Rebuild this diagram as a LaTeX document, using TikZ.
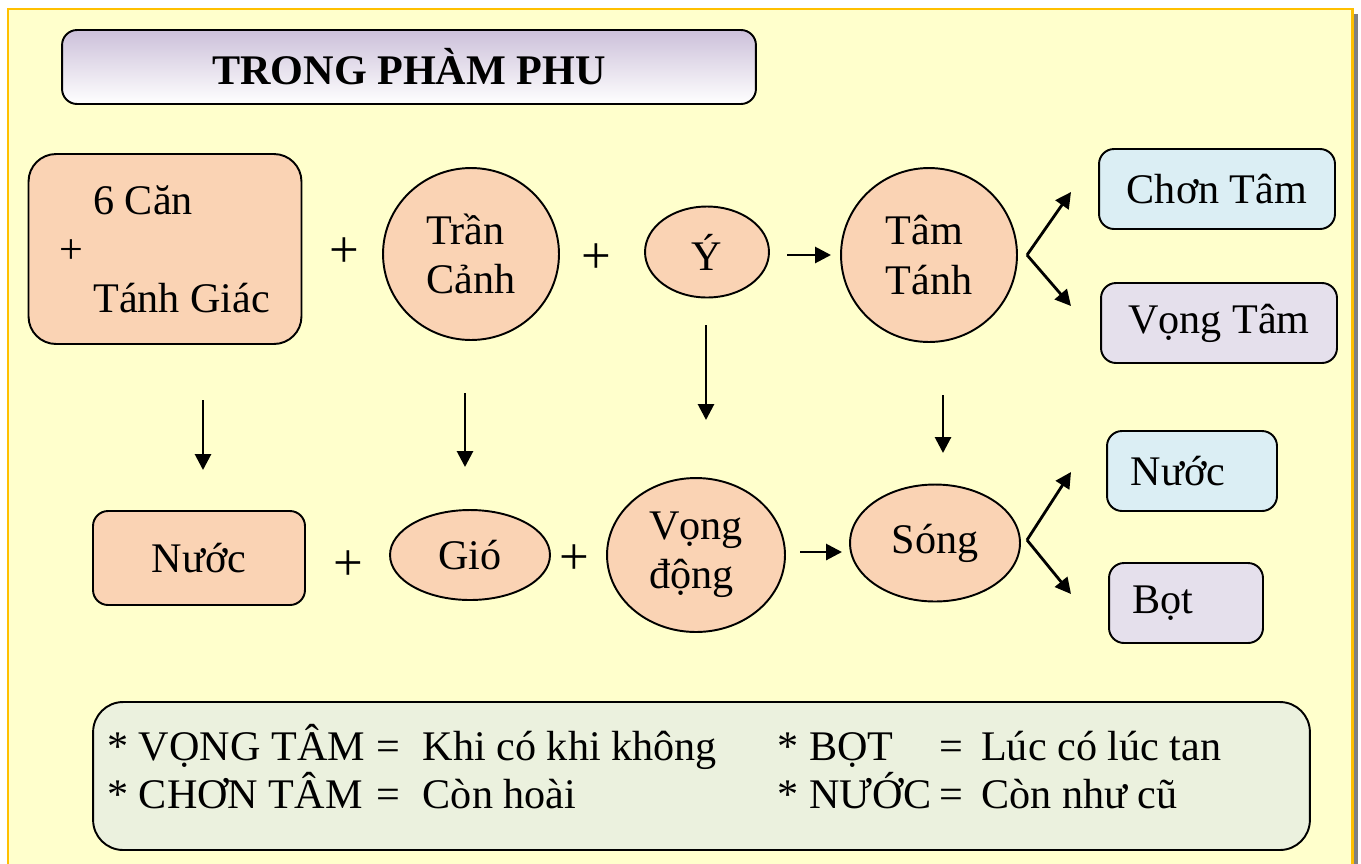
\documentclass[tikz,border=0pt]{standalone}
\usepackage{fontspec}
\setmainfont{Liberation Serif}
\usetikzlibrary{positioning}
\usetikzlibrary{arrows.meta}
\usetikzlibrary{shapes.geometric}
\usetikzlibrary{calc}

\definecolor{panel}{HTML}{FFFFCC}
\definecolor{gold}{HTML}{FFC000}
\definecolor{peach}{HTML}{FAD3B4}
\definecolor{skyfill}{HTML}{DBEEF4}
\definecolor{lilac}{HTML}{E5E0EC}
\definecolor{sage}{HTML}{EBF1DE}
\definecolor{titletop}{HTML}{CCC0DA}

\newcommand{\legcol}[2]{\makebox[#1][l]{#2}}

\begin{document}
\begin{tikzpicture}[ x = 0.02cm, y = -0.02cm
                     , font = \fontsize{24}{28}\selectfont
                     , >={Triangle[width=9pt, length=9pt]}
                     , box/.style = { rectangle
                                    , rounded corners = 0.3cm
                                    , draw = black
                                    , line width = 1.1pt
                                    , fill = peach
                                    , inner sep = 0pt }
                     , oval/.style = { ellipse
                                     , draw = black
                                     , line width = 1.1pt
                                     , fill = peach
                                     , inner sep = 0pt
                                     , align = left }
                     , plus/.style = { inner sep = 0pt, font = \fontsize{30}{30}\selectfont }
                     , arr/.style = { ->, line width = 1.6pt }
                     ]
  \useasboundingbox (0,0) rectangle (1361,863);

  %%
  %% Background panel
  %%
  \fill[white] (0,0) rectangle (1361,863);
  \fill[gray] (1353,14) rectangle (1358,900);
  \draw[gold, line width = 1.7pt, fill = panel] (8,9) rectangle (1352,900);

  %%
  %% Nodes
  %%
  \node (title) [box, rounded corners = 0.3cm, fill = none, top color = titletop, bottom color = white,
                 minimum width = 13.88cm, minimum height = 1.48cm, font = \fontsize{24}{28}\selectfont\bfseries]
        at (409,67) {TRONG PHÀM PHU};

  \node (sixcan) [box, rounded corners = 0.55cm, minimum width = 5.46cm, minimum height = 3.8cm, align = left]
        at (165,249) {\hspace*{19pt}6 Căn\\+\\\hspace*{19pt}Tánh Giác};
  \node (tran) [oval, minimum width = 3.52cm, minimum height = 3.44cm] at (471,254) {Trần\\Cảnh};
  \node (y) [oval, minimum width = 2.48cm, minimum height = 1.82cm] at (707,252) {Ý};
  \node (tamtanh) [oval, minimum width = 3.52cm, minimum height = 3.48cm] at (929,255) {Tâm\\Tánh};
  \node (chon) [box, fill = skyfill, minimum width = 4.72cm, minimum height = 1.6cm] at (1217,189) {Chơn Tâm};
  \node (vongtam) [box, fill = lilac, minimum width = 4.72cm, minimum height = 1.6cm] at (1219,323) {Vọng Tâm};

  \node (nuoc) [box, minimum width = 4.24cm, minimum height = 1.88cm] at (199,558) {Nước};
  \node (gio) [oval, minimum width = 3.2cm, minimum height = 1.8cm] at (470,555) {Gió};
  \node (vongdong) [oval, minimum width = 3.56cm, minimum height = 3.08cm] at (696,555) {Vọng\\động};
  \node (song) [oval, minimum width = 3.4cm, minimum height = 2.34cm] at (935,543) {Sóng};
  \node (nuocr) [box, fill = skyfill, minimum width = 3.4cm, minimum height = 1.6cm] at (1192,471) {Nước\hspace*{16pt}};
  \node (bot) [box, fill = lilac, minimum width = 3.08cm, minimum height = 1.6cm] at (1186,603) {Bọt\hspace*{26pt}};

  % the plus signs between the terms
  \node (plusa) [plus] at (344,253) {+};
  \node (plusb) [plus] at (596,259) {+};
  \node (plusc) [plus] at (348,566) {+};
  \node (plusd) [plus] at (574,560) {+};

  %%
  %% Legend
  %%
  \node (legend) [box, rounded corners = 0.6cm, fill = sage, minimum width = 24.34cm, minimum height = 2.96cm]
        at (701.5,776) {};
  % base of a two-line node is the baseline of its last line
  \node (legendtxt) [anchor = base west, inner sep = 0pt, align = left, font = \fontsize{24}{25.5}\selectfont]
        at (107,808)
        {\legcol{153pt}{* VỌNG TÂM}\legcol{26.6pt}{=}\legcol{202pt}{Khi có khi không}%
         \legcol{92pt}{* BỌT}\legcol{23.8pt}{=}Lúc có lúc tan\\
         \legcol{153pt}{* CHƠN TÂM}\legcol{26.6pt}{=}\legcol{202pt}{Còn hoài}%
         \legcol{92pt}{* NƯỚC}\legcol{23.8pt}{=}Còn như cũ};

  %%
  %% Arrows
  %%
  \coordinate (sixtop) at (203,400);   \coordinate (sixbot) at (203,470);
  \coordinate (trantop) at (465,393);  \coordinate (tranbot) at (465,467);
  \coordinate (ytop) at (706,325);     \coordinate (ybot) at (706,420);
  \coordinate (tamtop) at (943,395);   \coordinate (tambot) at (943,453);
  \coordinate (yout) at (787,255);     \coordinate (tamin) at (831,255);
  \coordinate (vdout) at (800,552);    \coordinate (songin) at (842,552);
  \coordinate (forka) at (1027,255);
  \coordinate (chontip) at (1071,192); \coordinate (vongtip) at (1071,306);
  \coordinate (forkb) at (1027,540);
  \coordinate (nuoctip) at (1071,472); \coordinate (bottip) at (1071,594);

  % vertical arrows
  \draw[arr] (sixtop) -- (sixbot);
  \draw[arr] (trantop) -- (tranbot);
  \draw[arr] (ytop) -- (ybot);
  \draw[arr] (tamtop) -- (tambot);
  % horizontal arrows
  \draw[arr] (yout) -- (tamin);
  \draw[arr] (vdout) -- (songin);
  % forks
  \draw[arr] (forka) -- (chontip);
  \draw[arr] (forka) -- (vongtip);
  \draw[arr] (forkb) -- (nuoctip);
  \draw[arr] (forkb) -- (bottip);
\end{tikzpicture}
\end{document}
